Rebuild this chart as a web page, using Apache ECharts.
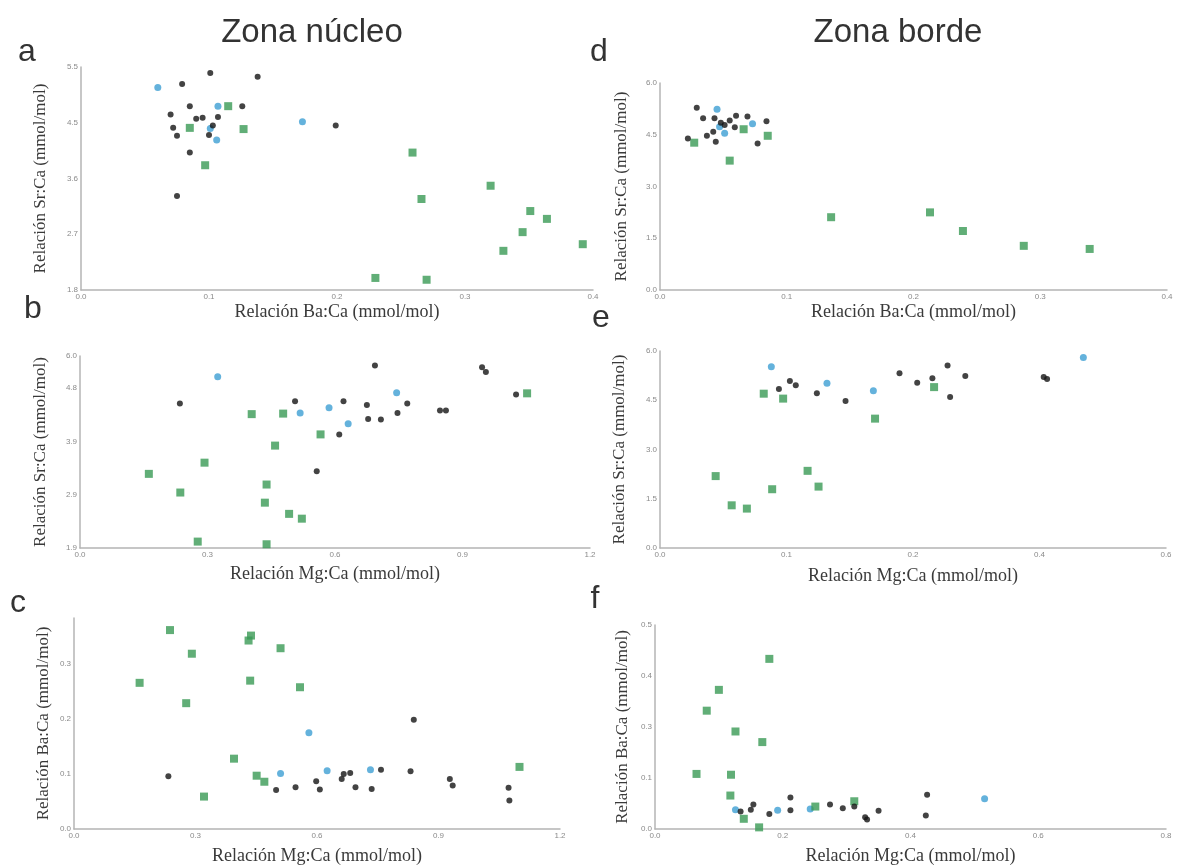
<!DOCTYPE html>
<html>
<head>
<meta charset="utf-8">
<script src="https://cdn.jsdelivr.net/npm/echarts@6/dist/echarts.min.js"></script>
<style>
html,body{margin:0;padding:0;background:#fff;}
#chart{width:1192px;height:866px;}
</style>
</head>
<body>
<div id="chart"></div>
<script>
// ---------- text ----------
const zoneTitles = ['Zona núcleo', 'Zona borde'];
const panelLetters = ['a', 'b', 'c', 'd', 'e', 'f'];
const nameBa = 'Relación Ba:Ca (mmol/mol)';
const nameSr = 'Relación Sr:Ca (mmol/mol)';
const nameMg = 'Relación Mg:Ca (mmol/mol)';

// ---------- tick values and labels ----------
const aXTicks = [0, 0.1, 0.2, 0.3, 0.4];           const aXLabels = ['0.0', '0.1', '0.2', '0.3', '0.4'];
const aYTicks = [1.8, 2.725, 3.65, 4.575, 5.5];     const aYLabels = ['1.8', '2.7', '3.6', '4.5', '5.5'];
const bXTicks = [0, 0.3, 0.6, 0.9, 1.2];            const bXLabels = ['0.0', '0.3', '0.6', '0.9', '1.2'];
const bYTicks = [1.9, 2.9, 3.9, 4.9, 5.5];          const bYLabels = ['1.9', '2.9', '3.9', '4.8', '6.0'];
const cXTicks = [0, 0.3, 0.6, 0.9, 1.2];            const cXLabels = ['0.0', '0.3', '0.6', '0.9', '1.2'];
const cYTicks = [0, 0.1, 0.2, 0.3];                 const cYLabels = ['0.0', '0.1', '0.2', '0.3'];
const dXTicks = [0, 0.1, 0.2, 0.3, 0.4];            const dXLabels = ['0.0', '0.1', '0.2', '0.3', '0.4'];
const dYTicks = [0, 1.5, 3.0, 4.5, 6.0];            const dYLabels = ['0.0', '1.5', '3.0', '4.5', '6.0'];
const eXTicks = [0, 0.15, 0.3, 0.45, 0.6];          const eXLabels = ['0.0', '0.1', '0.2', '0.4', '0.6'];
const eYTicks = [0, 1.5, 3.0, 4.5, 6.0];            const eYLabels = ['0.0', '1.5', '3.0', '4.5', '6.0'];
const fXTicks = [0, 0.2, 0.4, 0.6, 0.8];            const fXLabels = ['0.0', '0.2', '0.4', '0.6', '0.8'];
const fYTicks = [0, 0.125, 0.25, 0.375, 0.5];       const fYLabels = ['0.0', '0.1', '0.3', '0.4', '0.5'];

// ---------- data: [x, y] ----------
// a: Ba:Ca vs Sr:Ca (núcleo)
const aBlack = [[0.101,5.40],[0.079,5.22],[0.138,5.34],[0.085,4.85],[0.126,4.85],[0.070,4.71],[0.072,4.49],[0.075,4.36],[0.090,4.64],[0.095,4.66],[0.107,4.67],[0.103,4.53],[0.100,4.37],[0.085,4.08],[0.075,3.36],[0.199,4.53]];
const aBlue = [[0.060,5.16],[0.107,4.85],[0.101,4.48],[0.106,4.29],[0.173,4.59]];
const aGreen = [[0.115,4.85],[0.085,4.49],[0.127,4.47],[0.097,3.87],[0.230,2.00],[0.259,4.08],[0.266,3.31],[0.270,1.97],[0.320,3.53],[0.351,3.11],[0.364,2.98],[0.345,2.76],[0.330,2.45],[0.392,2.56]];
// b: Mg:Ca vs Sr:Ca (núcleo)
const bBlack = [[0.235,4.61],[0.506,4.65],[0.620,4.65],[0.610,4.03],[0.557,3.34],[0.694,5.32],[0.675,4.58],[0.678,4.32],[0.708,4.31],[0.747,4.43],[0.770,4.61],[0.847,4.48],[0.861,4.48],[0.946,5.29],[0.955,5.20],[1.026,4.78]];
const bBlue = [[0.324,5.11],[0.518,4.43],[0.586,4.53],[0.631,4.23],[0.745,4.81]];
const bGreen = [[0.404,4.41],[0.478,4.42],[0.566,4.03],[0.459,3.82],[0.293,3.50],[0.162,3.29],[0.236,2.94],[0.439,3.09],[0.435,2.75],[0.492,2.54],[0.522,2.45],[0.277,2.02],[0.439,1.97],[1.052,4.80]];
// c: Mg:Ca vs Ba:Ca (núcleo)
const cBlack = [[0.233,0.096],[0.499,0.071],[0.547,0.076],[0.598,0.087],[0.607,0.072],[0.661,0.091],[0.666,0.100],[0.682,0.102],[0.695,0.076],[0.735,0.073],[0.758,0.108],[0.831,0.105],[0.839,0.199],[0.928,0.091],[0.935,0.079],[1.073,0.075],[1.075,0.052]];
const cBlue = [[0.580,0.175],[0.510,0.101],[0.625,0.106],[0.732,0.108]];
const cGreen = [[0.237,0.362],[0.291,0.319],[0.162,0.266],[0.277,0.229],[0.437,0.352],[0.431,0.343],[0.510,0.329],[0.435,0.270],[0.558,0.258],[0.395,0.128],[0.451,0.097],[0.470,0.086],[0.321,0.059],[1.100,0.113]];
// d: Ba:Ca vs Sr:Ca (borde)
const dBlack = [[0.029,5.28],[0.034,4.98],[0.043,4.98],[0.048,4.85],[0.051,4.78],[0.055,4.91],[0.060,5.05],[0.069,5.03],[0.084,4.89],[0.059,4.72],[0.037,4.47],[0.042,4.59],[0.044,4.30],[0.077,4.25],[0.022,4.39]];
const dBlue = [[0.045,5.24],[0.047,4.73],[0.051,4.54],[0.073,4.82]];
const dGreen = [[0.027,4.27],[0.066,4.66],[0.085,4.47],[0.055,3.75],[0.135,2.11],[0.213,2.25],[0.239,1.71],[0.287,1.28],[0.339,1.19]];
// e: Mg:Ca vs Sr:Ca (borde)
const eBlack = [[0.141,4.84],[0.154,5.09],[0.161,4.96],[0.186,4.71],[0.220,4.48],[0.284,5.32],[0.305,5.03],[0.323,5.17],[0.341,5.56],[0.344,4.60],[0.362,5.24],[0.455,5.21],[0.459,5.15]];
const eBlue = [[0.132,5.52],[0.198,5.02],[0.253,4.79],[0.502,5.80]];
const eGreen = [[0.123,4.70],[0.146,4.55],[0.255,3.94],[0.325,4.90],[0.066,2.19],[0.085,1.30],[0.103,1.20],[0.133,1.79],[0.175,2.35],[0.188,1.87]];
// f: Mg:Ca vs Ba:Ca (borde)
const fBlack = [[0.134,0.043],[0.150,0.047],[0.154,0.060],[0.179,0.037],[0.212,0.077],[0.212,0.046],[0.274,0.060],[0.294,0.051],[0.312,0.055],[0.329,0.029],[0.332,0.023],[0.350,0.045],[0.424,0.033],[0.426,0.084]];
const fBlue = [[0.126,0.047],[0.192,0.046],[0.243,0.049],[0.516,0.074]];
const fGreen = [[0.179,0.417],[0.100,0.341],[0.081,0.290],[0.126,0.239],[0.168,0.213],[0.065,0.135],[0.119,0.133],[0.118,0.082],[0.139,0.025],[0.163,0.004],[0.251,0.055],[0.312,0.068]];

// ---------- layout ----------
const panels = [
  {grid:{left:81, top:67, width:512, height:223}, x:{min:0,max:0.4,ticks:aXTicks,labels:aXLabels,name:nameBa,gap:13}, y:{min:1.8,max:5.5,ticks:aYTicks,labels:aYLabels,name:nameSr,gap:32}, data:[aBlack,aBlue,aGreen]},
  {grid:{left:80, top:356, width:510, height:192}, x:{min:0,max:1.2,ticks:bXTicks,labels:bXLabels,name:nameMg,gap:17}, y:{min:1.9,max:5.5,ticks:bYTicks,labels:bYLabels,name:nameSr,gap:31}, data:[bBlack,bBlue,bGreen]},
  {grid:{left:74, top:618, width:486, height:211}, x:{min:0,max:1.2,ticks:cXTicks,labels:cXLabels,name:nameMg,gap:18}, y:{min:0,max:0.384,ticks:cYTicks,labels:cYLabels,name:nameBa,gap:22}, data:[cBlack,cBlue,cGreen]},
  {grid:{left:660, top:83, width:507, height:207}, x:{min:0,max:0.4,ticks:dXTicks,labels:dXLabels,name:nameBa,gap:13}, y:{min:0,max:6,ticks:dYTicks,labels:dYLabels,name:nameSr,gap:30}, data:[dBlack,dBlue,dGreen]},
  {grid:{left:660, top:351, width:506, height:197}, x:{min:0,max:0.6,ticks:eXTicks,labels:eXLabels,name:nameMg,gap:19}, y:{min:0,max:6,ticks:eYTicks,labels:eYLabels,name:nameSr,gap:32}, data:[eBlack,eBlue,eGreen]},
  {grid:{left:655, top:625, width:511, height:204}, x:{min:0,max:0.8,ticks:fXTicks,labels:fXLabels,name:nameMg,gap:18}, y:{min:0,max:0.5,ticks:fYTicks,labels:fYLabels,name:nameBa,gap:24}, data:[fBlack,fBlue,fGreen]}
];

const letterPos = [[27,52],[33,309],[18,603],[599,52],[601,318],[595,599]];
const titlePos = [[312,33],[898,33]];

function labelFor(ticks, labels) {
  return function (v) {
    for (let i = 0; i < ticks.length; i++) if (Math.abs(ticks[i] - v) < 1e-9) return labels[i];
    return '';
  };
}

const axisLineStyle = {color:'#b4b4b4', width:1.5};
const tickLabelStyle = {color:'#8a8a8a', fontSize:8, fontFamily:'Liberation Sans'};
const nameStyle = {color:'#3a3a3a', fontSize:17, fontFamily:'Liberation Serif'};

const styles = [
  {symbol:'circle', symbolSize:6, color:'#141414'},
  {symbol:'circle', symbolSize:7, color:'#3d9fd3'},
  {symbol:'rect', symbolSize:8, color:'#3a9a55'}
];

const grids = [], xAxes = [], yAxes = [], series = [];
panels.forEach((p, i) => {
  grids.push(Object.assign({containLabel:false}, p.grid));
  xAxes.push({
    type:'value', gridIndex:i, min:p.x.min, max:p.x.max,
    name:p.x.name, nameLocation:'middle', nameGap:p.x.gap, nameTextStyle:Object.assign({}, nameStyle, {fontSize:18}),
    axisLine:{show:true, onZero:false, lineStyle:axisLineStyle},
    axisTick:{show:false},
    splitLine:{show:false},
    axisLabel:Object.assign({customValues:p.x.ticks, formatter:labelFor(p.x.ticks, p.x.labels), margin:3, hideOverlap:false}, tickLabelStyle)
  });
  yAxes.push({
    type:'value', gridIndex:i, min:p.y.min, max:p.y.max,
    name:p.y.name, nameLocation:'middle', nameGap:p.y.gap, nameRotate:90, nameTextStyle:nameStyle,
    axisLine:{show:true, onZero:false, lineStyle:axisLineStyle},
    axisTick:{show:false},
    splitLine:{show:false},
    axisLabel:Object.assign({customValues:p.y.ticks, formatter:labelFor(p.y.ticks, p.y.labels), margin:3, hideOverlap:false}, tickLabelStyle)
  });
  p.data.forEach((d, k) => {
    series.push({
      type:'scatter', xAxisIndex:i, yAxisIndex:i, data:d,
      symbol:styles[k].symbol, symbolSize:styles[k].symbolSize,
      itemStyle:{color:styles[k].color}, z:2 + (k === 0 ? 1 : 0),
      silent:true, animation:false
    });
  });
});

const graphics = [];
titlePos.forEach((pos, i) => graphics.push({type:'text', x:pos[0], y:pos[1], style:{text:zoneTitles[i], fill:'#333', font:'33px "Liberation Sans"', textAlign:'center', textVerticalAlign:'middle'}}));
letterPos.forEach((pos, i) => graphics.push({type:'text', x:pos[0], y:pos[1], style:{text:panelLetters[i], fill:'#333', font:'32px "Liberation Sans"', textAlign:'center', textVerticalAlign:'middle'}}));

const chart = echarts.init(document.getElementById('chart'), null, {renderer:'canvas'});
chart.setOption({
  backgroundColor:'#ffffff',
  animation:false,
  grid:grids, xAxis:xAxes, yAxis:yAxes, series:series,
  graphic:graphics
});
</script>
</body>
</html>
